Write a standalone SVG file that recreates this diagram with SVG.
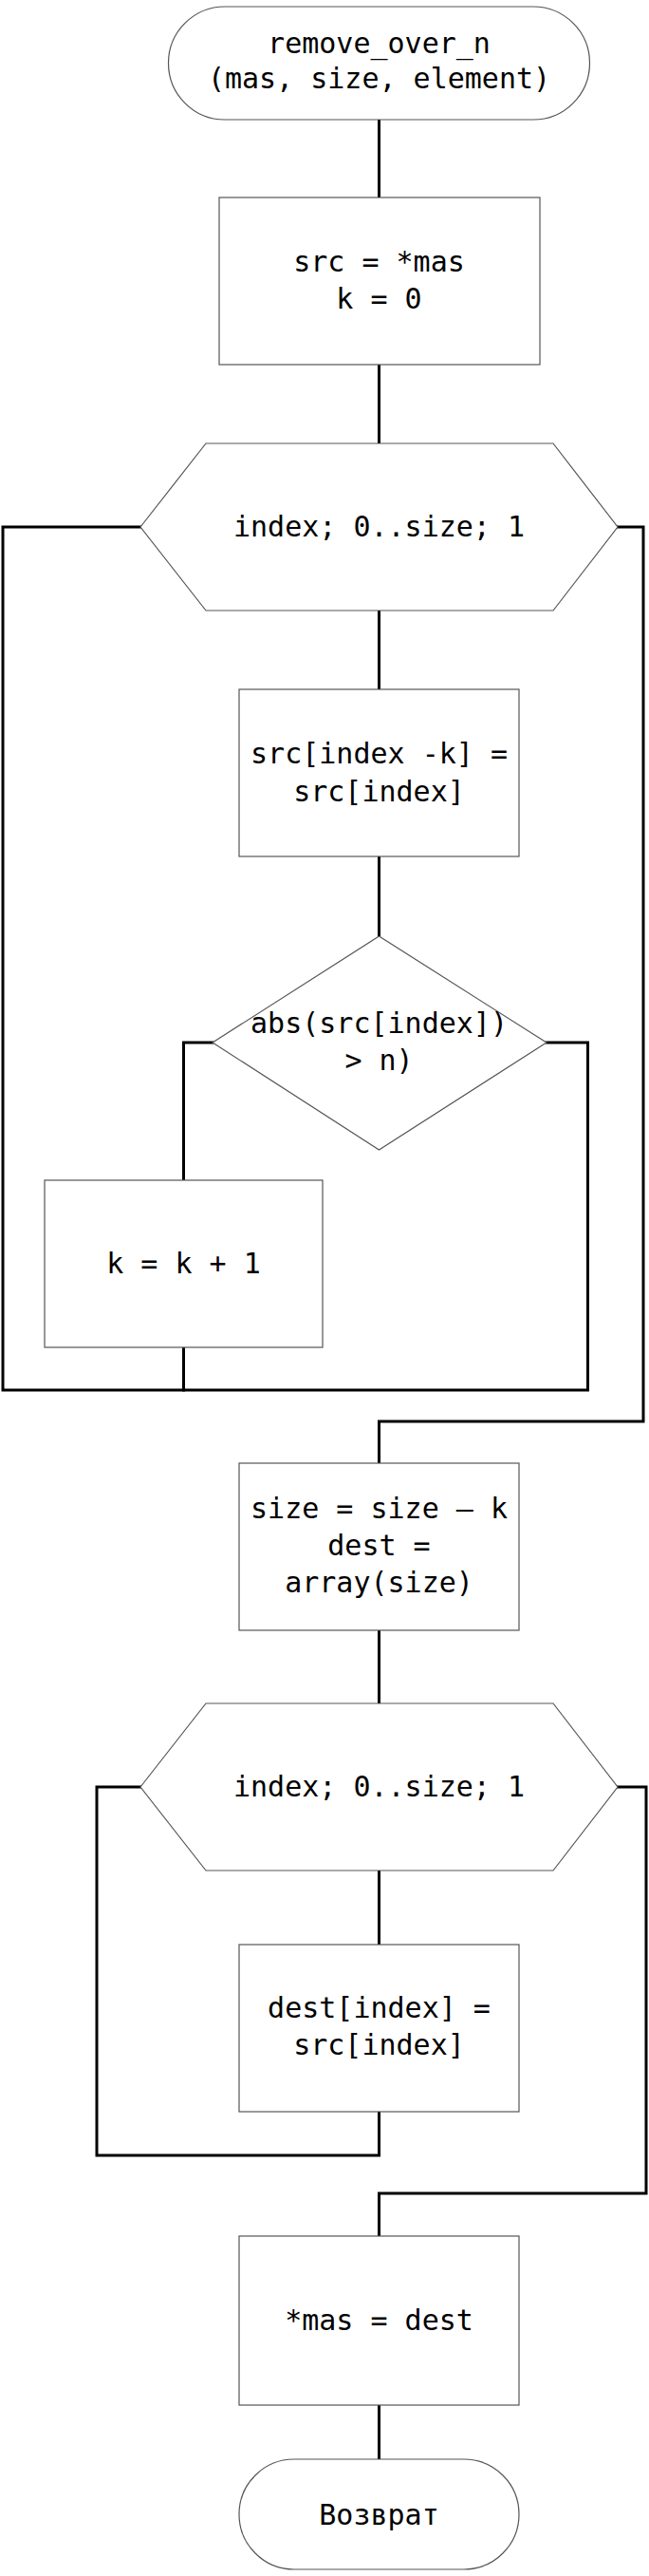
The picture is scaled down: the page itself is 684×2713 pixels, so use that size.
<svg xmlns="http://www.w3.org/2000/svg" width="684" height="2713" viewBox="0 0 684 2713">
<style>
.n{fill:#fff;stroke:#555;stroke-width:1.2}
.c{fill:none;stroke:#000;stroke-width:3;stroke-linejoin:miter;stroke-linecap:square}
text{font-family:"DejaVu Sans Mono","Liberation Mono",monospace;font-size:30px;fill:#000;text-anchor:middle}
</style>
<rect width="684" height="2713" fill="#fff"/>
<g id="connectors">
<path class="c" d="M399.5 126V208"/>
<path class="c" d="M399.5 384V467"/>
<path class="c" d="M399.5 643V726"/>
<path class="c" d="M399.5 902V986"/>
<path class="c" d="M224 1098H193.5V1243"/>
<path class="c" d="M193.5 1419V1464"/>
<path class="c" d="M576 1098H619.5V1464H3V555H148"/>
<path class="c" d="M651 555H678V1497H399.5V1541"/>
<path class="c" d="M399.5 1717V1794"/>
<path class="c" d="M399.5 1970V2048"/>
<path class="c" d="M399.5 2224V2270H102V1882H148"/>
<path class="c" d="M651 1882H681V2310H399.5V2355"/>
<path class="c" d="M399.5 2533V2590"/>
</g>
<g id="start">
<rect class="n" x="177.5" y="7" width="444" height="119" rx="59.5" ry="59.5"/>
<text x="399.5" y="56">remove_over_n</text>
<text x="399.5" y="93">(mas, size, element)</text>
</g>
<g id="init">
<rect class="n" x="231" y="208" width="338" height="176"/>
<text x="399.5" y="286">src = *mas</text>
<text x="399.5" y="325">k = 0</text>
</g>
<g id="loop1">
<polygon class="n" points="148,555 217,467 583,467 651,555 583,643 217,643"/>
<text x="399.5" y="565">index; 0..size; 1</text>
</g>
<g id="shift">
<rect class="n" x="252" y="726" width="295" height="176"/>
<text x="399.5" y="804">src[index -k] =</text>
<text x="399.5" y="844">src[index]</text>
</g>
<g id="cond">
<polygon class="n" points="399.5,986 576,1098 399.5,1211 224,1098"/>
<text x="399.5" y="1088">abs(src[index])</text>
<text x="399.5" y="1127">&gt; n)</text>
</g>
<g id="inc">
<rect class="n" x="47" y="1243" width="293" height="176"/>
<text x="193.5" y="1341">k = k + 1</text>
</g>
<g id="resize">
<rect class="n" x="252" y="1541" width="295" height="176"/>
<text x="399.5" y="1599">size = size – k</text>
<text x="399.5" y="1638">dest =</text>
<text x="399.5" y="1677">array(size)</text>
</g>
<g id="loop2">
<polygon class="n" points="148,1882 217,1794 583,1794 651,1882 583,1970 217,1970"/>
<text x="399.5" y="1892">index; 0..size; 1</text>
</g>
<g id="copy">
<rect class="n" x="252" y="2048" width="295" height="176"/>
<text x="399.5" y="2125">dest[index] =</text>
<text x="399.5" y="2164">src[index]</text>
</g>
<g id="assign">
<rect class="n" x="252" y="2355" width="295" height="178"/>
<text x="399.5" y="2454">*mas = dest</text>
</g>
<g id="end">
<rect class="n" x="252" y="2590" width="295" height="116" rx="58" ry="58"/>
<text x="399.5" y="2659">Возврат</text>
</g>
</svg>
